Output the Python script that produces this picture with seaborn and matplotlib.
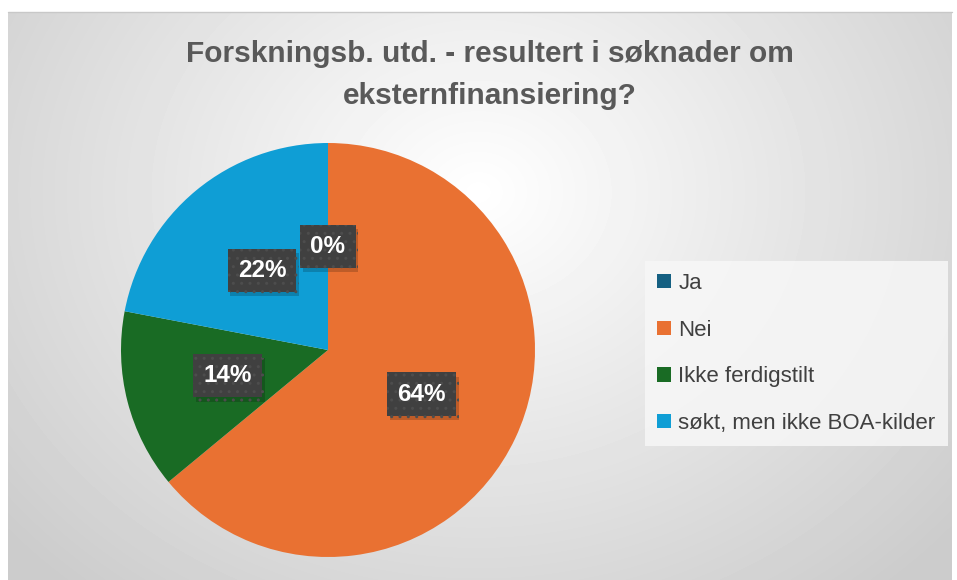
import numpy as np
import matplotlib
matplotlib.use('Agg')
import matplotlib.pyplot as plt
from matplotlib.patches import Patch
import matplotlib.patheffects as pe
import seaborn as sns

# data
labels = ['Ja', 'Nei', 'Ikke ferdigstilt', 'søkt, men ikke BOA-kilder']
values = [0, 64, 14, 22]
colors = ['#156082', '#E97132', '#196B24', '#0F9ED5']
title = 'Forskningsb. utd. - resultert i søknader om\neksternfinansiering?'

sns.set_theme(style='white')
plt.rcParams['font.family'] = ['Liberation Sans', 'DejaVu Sans']
plt.rcParams['hatch.color'] = '#4d4d4d'
plt.rcParams['hatch.linewidth'] = 1.0

W, H = 957, 580
fig = plt.figure(figsize=(W / 100, H / 100), dpi=100)
fig.patch.set_facecolor('white')

# bakgrunn med radial gradient
bg = fig.add_axes([8 / W, 0, 944 / W, 568 / H])
yy, xx = np.mgrid[0:568, 0:944]
r = np.sqrt(((xx - 470) / 620) ** 2 + ((yy - 180) / 520) ** 2)
grad = 1 - 0.2 * np.clip(r, 0, 1)
bg.imshow(grad, cmap='gray', vmin=0, vmax=1, aspect='auto', interpolation='bilinear')
bg.set_axis_off()
fig.add_artist(plt.Line2D([8 / W, 952 / W], [568 / H, 568 / H], color='#c8c8c8', lw=1))

# kakediagram
cx, cy, rad = 328, 350, 207
ax = fig.add_axes([(cx - rad) / W, (H - cy - rad) / H, 2 * rad / W, 2 * rad / H])
wedges, texts, autotexts = ax.pie(
    values, colors=colors, startangle=90, counterclock=False,
    autopct=lambda p: f'{p:.0f}%', pctdistance=0.5,
    wedgeprops={'linewidth': 0})
for t in autotexts:
    t.set_color('white')
    t.set_fontsize(17.5)
    t.set_fontweight('bold')
    t.set_bbox(dict(boxstyle='square,pad=0.42', facecolor='#404040',
                    edgecolor='#4d4d4d', linewidth=0, hatch='..'))
    t.get_bbox_patch().set_path_effects(
        [pe.SimplePatchShadow(offset=(2, -3), shadow_rgbFace='black', alpha=0.18), pe.Normal()])
ax.set_xlim(-1, 1)
ax.set_ylim(-1, 1)
ax.set_aspect('equal')
ax.set_axis_off()

fig.text(490 / W, 1 - 75 / H, title, ha='center', va='center',
         fontsize=21.5, fontweight='bold', color='#595959', linespacing=1.6)

handles = [Patch(facecolor=c, edgecolor='none') for c in colors]
leg = fig.legend(handles, labels, loc='upper left',
                 bbox_to_anchor=(645 / W, 1 - 261 / H),
                 fontsize=16, frameon=True, fancybox=False,
                 handlelength=0.6, handleheight=0.6, handletextpad=0.35,
                 labelspacing=1.15, borderpad=0.55, borderaxespad=0,
                 labelcolor='#404040')
leg.get_frame().set_facecolor('#f7f7f7')
leg.get_frame().set_edgecolor('none')
leg.get_frame().set_alpha(0.85)

fig.savefig('out.png', dpi=100)
